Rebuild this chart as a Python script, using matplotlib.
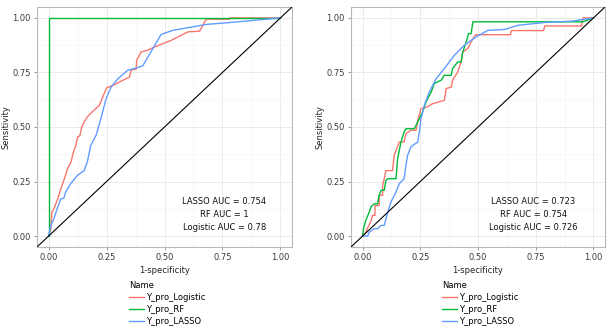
import matplotlib
matplotlib.use("Agg")
import matplotlib.pyplot as plt
from matplotlib.ticker import MultipleLocator

# ---- data (1-specificity, sensitivity) ----
train_logistic_x = [0, 0.01, 0.014, 0.023, 0.039, 0.053, 0.068, 0.082, 0.097, 0.107, 0.118, 0.125,
                    0.135, 0.143, 0.157, 0.174, 0.195, 0.219, 0.233, 0.25, 0.284, 0.32, 0.349, 0.356,
                    0.378, 0.38, 0.399, 0.428, 0.457, 0.493, 0.529, 0.565, 0.601, 0.651, 0.68, 0.78,
                    0.78, 1.0]
train_logistic_y = [0, 0.034, 0.11, 0.125, 0.17, 0.217, 0.263, 0.31, 0.34, 0.385, 0.416, 0.454,
                    0.46, 0.50, 0.53, 0.555, 0.576, 0.60, 0.636, 0.679, 0.694, 0.714, 0.729, 0.76,
                    0.766, 0.806, 0.844, 0.852, 0.867, 0.882, 0.897, 0.917, 0.936, 0.939, 0.994, 0.994,
                    1.0, 1.0]
train_rf_x = [0, 0, 1.0]
train_rf_y = [0, 1.0, 1.0]
train_lasso_x = [0, 0.01, 0.023, 0.037, 0.052, 0.066, 0.073, 0.095, 0.124, 0.153, 0.167, 0.182,
                 0.205, 0.226, 0.248, 0.27, 0.298, 0.341, 0.377, 0.406, 0.45, 0.485, 0.536, 0.594,
                 0.68, 0.795, 1.0]
train_lasso_y = [0, 0.05, 0.08, 0.125, 0.17, 0.174, 0.20, 0.24, 0.278, 0.30, 0.34, 0.416,
                 0.462, 0.54, 0.63, 0.683, 0.72, 0.76, 0.77, 0.78, 0.86, 0.924, 0.943, 0.954,
                 0.97, 0.98, 1.0]

test_logistic_x = [0, 0.014, 0.022, 0.036, 0.043, 0.054, 0.054, 0.072, 0.072, 0.087, 0.087, 0.094,
                   0.101, 0.13, 0.137, 0.145, 0.159, 0.18, 0.188, 0.21, 0.232, 0.239, 0.253, 0.275,
                   0.304, 0.354, 0.362, 0.384, 0.39, 0.412, 0.427, 0.434, 0.456, 0.47, 0.489, 0.64,
                   0.645, 0.784, 0.789, 0.948, 0.955, 1.0]
test_logistic_y = [0, 0.018, 0.037, 0.067, 0.095, 0.095, 0.14, 0.14, 0.187, 0.187, 0.232, 0.263,
                   0.30, 0.30, 0.37, 0.393, 0.431, 0.431, 0.47, 0.485, 0.485, 0.53, 0.584, 0.59,
                   0.607, 0.622, 0.676, 0.683, 0.714, 0.752, 0.798, 0.844, 0.86, 0.89, 0.923, 0.923,
                   0.942, 0.942, 0.963, 0.963, 1.0, 1.0]
test_rf_x = [0, 0.004, 0.014, 0.029, 0.036, 0.05, 0.065, 0.072, 0.08, 0.094, 0.101, 0.11, 0.145,
             0.152, 0.166, 0.18, 0.188, 0.224, 0.239, 0.26, 0.275, 0.297, 0.311, 0.34, 0.354,
             0.384, 0.39, 0.412, 0.427, 0.434, 0.449, 0.459, 0.47, 0.478, 0.954, 1.0]
test_rf_y = [0, 0.034, 0.072, 0.11, 0.133, 0.148, 0.148, 0.187, 0.21, 0.21, 0.255, 0.263, 0.263,
             0.355, 0.43, 0.477, 0.492, 0.492, 0.523, 0.569, 0.615, 0.66, 0.70, 0.714, 0.737,
             0.737, 0.768, 0.798, 0.798, 0.844, 0.89, 0.928, 0.928, 0.982, 0.982, 1.0]
test_lasso_x = [0, 0.022, 0.029, 0.05, 0.065, 0.08, 0.094, 0.109, 0.123, 0.145, 0.159, 0.18,
                0.188, 0.195, 0.21, 0.239, 0.246, 0.253, 0.268, 0.289, 0.318, 0.354, 0.398, 0.441,
                0.492, 0.543, 0.615, 0.673, 0.789, 0.905, 1.0]
test_lasso_y = [0, 0, 0.018, 0.034, 0.034, 0.049, 0.049, 0.11, 0.156, 0.202, 0.24, 0.263,
                0.324, 0.37, 0.41, 0.431, 0.477, 0.538, 0.60, 0.66, 0.72, 0.768, 0.829, 0.875,
                0.913, 0.943, 0.947, 0.966, 0.979, 0.985, 1.0]

names = ["Y_pro_Logistic", "Y_pro_RF", "Y_pro_LASSO"]
colors = ["#F8766D", "#00BA38", "#619CFF"]
train_auc = ["LASSO AUC = 0.754", "RF AUC = 1", "Logistic AUC = 0.78"]
test_auc = ["LASSO AUC = 0.723", "RF AUC = 0.754", "Logistic AUC = 0.726"]

plt.rcParams["font.family"] = "DejaVu Sans"
FS = 6

W, H = 610, 335
fig = plt.figure(figsize=(W / 100, H / 100), dpi=100)


def px_axes(x0, y0, x1, y1):
    return fig.add_axes([x0 / W, 1 - y1 / H, (x1 - x0) / W, (y1 - y0) / H])


def roc_panel(ax, curves, auc_lines, text_x):
    for (xs, ys), c, n in zip(curves, colors, names):
        ax.plot(xs, ys, color=c, lw=1.0, label=n, zorder=3)
    ax.axline((0, 0), (1, 1), color="black", lw=0.8, zorder=4)
    ax.set_xlim(-0.05, 1.05)
    ax.set_ylim(-0.05, 1.05)
    ax.xaxis.set_major_locator(MultipleLocator(0.25))
    ax.yaxis.set_major_locator(MultipleLocator(0.25))
    ax.xaxis.set_minor_locator(MultipleLocator(0.125))
    ax.yaxis.set_minor_locator(MultipleLocator(0.125))
    ax.xaxis.set_major_formatter(lambda v, p: f"{v:.2f}")
    ax.yaxis.set_major_formatter(lambda v, p: f"{v:.2f}")
    ax.grid(which="major", color="#ebebeb", lw=0.7)
    ax.grid(which="minor", color="#f5f5f5", lw=0.5)
    ax.set_axisbelow(True)
    ax.tick_params(which="major", labelsize=FS, length=2.5, width=0.6, color="#8a8a8a",
                   labelcolor="#3a3a3a", pad=2)
    ax.tick_params(which="minor", length=0)
    for s in ax.spines.values():
        s.set_color("#b8b8b8")
        s.set_linewidth(0.8)
    ax.set_xlabel("1-specificity", fontsize=FS, color="#222222", labelpad=3)
    ax.set_ylabel("Sensitivity", fontsize=FS, color="#222222", labelpad=1)
    for t, y in zip(auc_lines, [0.159, 0.099, 0.04]):
        ax.text(text_x, y, t, fontsize=FS, ha="center", va="center", color="#111111", zorder=5)


ax1 = px_axes(37, 7, 292, 247)
roc_panel(ax1, [(train_logistic_x, train_logistic_y), (train_rf_x, train_rf_y),
                (train_lasso_x, train_lasso_y)], train_auc, 0.758)
ax2 = px_axes(351, 7, 605, 247)
roc_panel(ax2, [(test_logistic_x, test_logistic_y), (test_rf_x, test_rf_y),
                (test_lasso_x, test_lasso_y)], test_auc, 0.74)

for ax, lx in [(ax1, 123), (ax2, 436)]:
    leg = ax.legend(loc="upper left", bbox_to_anchor=(lx / W, 1 - 275 / H),
                    bbox_transform=fig.transFigure, frameon=False, title="Name",
                    alignment="left", fontsize=FS, title_fontsize=FS,
                    handlelength=1.8, handletextpad=0.3, labelspacing=0.38,
                    borderpad=0.2)

fig.savefig("out.png", dpi=100, facecolor="white")
